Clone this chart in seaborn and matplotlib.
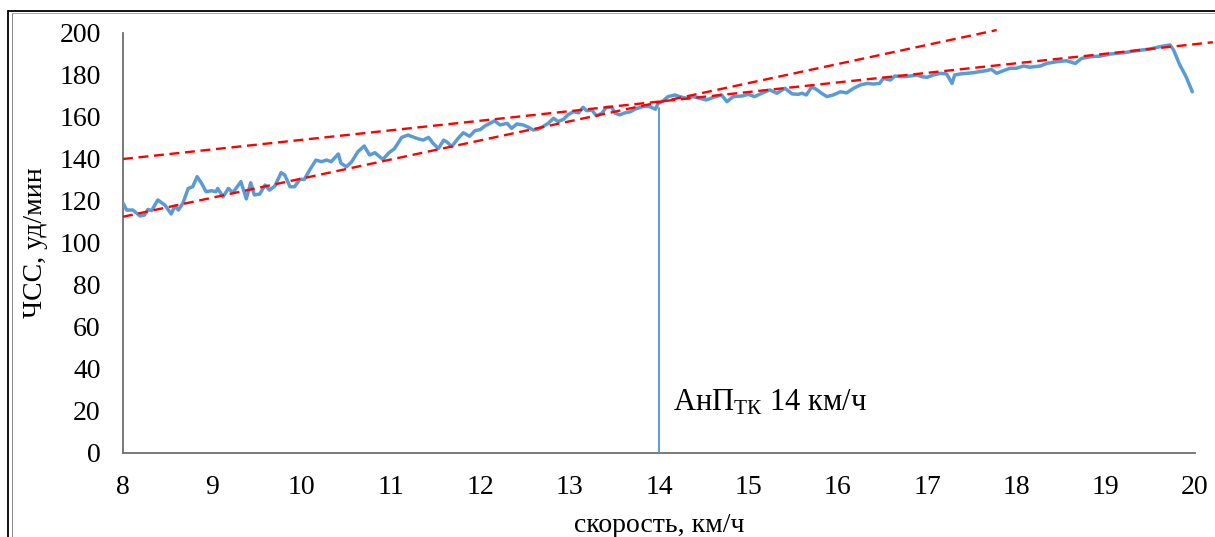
import matplotlib
matplotlib.use("Agg")
import matplotlib.pyplot as plt
from matplotlib.lines import Line2D
import seaborn as sns
import pandas as pd

# ---- data ----
speed = [8.00, 8.04, 8.11, 8.19, 8.24, 8.28, 8.32, 8.39, 8.47, 8.54, 8.58, 8.62, 8.67, 8.73, 8.78,
         8.83, 8.88, 8.93, 8.99, 9.04, 9.06, 9.12, 9.18, 9.23, 9.32, 9.38, 9.43, 9.47, 9.53, 9.59,
         9.64, 9.70, 9.77, 9.81, 9.87, 9.92, 9.98, 10.03, 10.09, 10.16, 10.22, 10.28, 10.33, 10.41,
         10.44, 10.50, 10.56, 10.63, 10.70, 10.76, 10.82, 10.85, 10.91, 10.97, 11.04, 11.12, 11.19,
         11.29, 11.36, 11.42, 11.47, 11.53, 11.59, 11.63, 11.68, 11.75, 11.81, 11.88, 11.94, 12.00,
         12.05, 12.11, 12.16, 12.22, 12.30, 12.35, 12.41, 12.48, 12.54, 12.59, 12.65, 12.70, 12.76,
         12.82, 12.87, 12.93, 12.98, 13.04, 13.10, 13.15, 13.19, 13.25, 13.30, 13.36, 13.41, 13.47,
         13.51, 13.56, 13.62, 13.68, 13.73, 13.79, 13.84, 13.90, 13.96, 13.99, 14.05, 14.10, 14.18,
         14.23, 14.31, 14.38, 14.46, 14.53, 14.63, 14.70, 14.76, 14.83, 14.93, 15.00, 15.07, 15.15,
         15.24, 15.32, 15.41, 15.49, 15.56, 15.60, 15.65, 15.71, 15.77, 15.82, 15.88, 15.95, 16.03,
         16.10, 16.18, 16.25, 16.33, 16.40, 16.47, 16.51, 16.59, 16.64, 16.74, 16.81, 16.89, 16.94,
         17.00, 17.07, 17.15, 17.22, 17.28, 17.31, 17.37, 17.44, 17.52, 17.59, 17.67, 17.72, 17.78,
         17.85, 17.93, 18.00, 18.08, 18.15, 18.27, 18.34, 18.45, 18.56, 18.66, 18.73, 18.83, 18.94,
         19.05, 19.20, 19.35, 19.50, 19.61, 19.72, 19.76, 19.83, 19.90, 19.97]
hr = [119, 115.7, 115.7, 112.9, 113.3, 116, 115.4, 120.5, 118, 113.8, 117.6, 115.7, 118.9, 126, 126.8,
      131.6, 128.4, 124.4, 124.9, 124.4, 126, 122, 126, 124, 129.2, 121, 128.7, 122.9, 123.3, 127.6,
      125.2, 127.1, 133.5, 132.4, 126.8, 126.8, 130.3, 130.3, 134.8, 139.5, 138.7, 139.5, 138.7, 142.4,
      138, 136.3, 138.7, 143.5, 146.2, 141.9, 143, 141.9, 139.8, 142.7, 145, 150.3, 151.4,
      149.8, 149, 150.3, 147.5, 145, 149, 148, 145.9, 149.8, 152.5, 150.8, 153.5, 154,
      155.7, 157, 158.2, 156.2, 157, 154.6, 156.7, 156.2, 155.1, 153.8, 154.2, 155.4, 157,
      159.4, 157.8, 158.9, 161, 162.5, 162, 164.6, 163, 163.3, 160.5, 161.8, 164.6, 164.6,
      161.8, 161, 162, 162.5, 163.7, 164.6, 165.2, 164.9, 163.7, 166.5, 167.8, 169.7, 170.5,
      169.7, 168.9, 169.7, 168.9, 168.1, 169.7, 170.5, 167.3, 169.7, 170, 170.8, 169.7, 171.3,
      172.9, 171.3, 173.7, 171, 170.8, 171.3, 170.5, 174.4, 172.9, 171.3, 169.7, 170.5, 172,
      171.5, 173.7, 175.2, 176, 175.7, 176, 178.4, 177.6, 179.5, 179.2, 179.5, 180, 179.2,
      178.9, 180, 180.8, 180.5, 176, 180, 180.5, 180.8, 181.1, 181.6, 182.1, 182.7, 180.8,
      182, 183.2, 183.2, 184.3, 183.7, 184.3, 185.5, 186.3, 186.8, 185.5, 187.9, 188.7, 189,
      190, 190.6, 191.6, 192.4, 193.5, 194.3, 191.9, 184.8, 179.2, 172]

trend1_x = [8.0, 20.2]
trend1_y = [140.0, 195.6]
trend2_x = [8.0, 17.78]
trend2_y = [112.5, 201.4]

anp_x = [14.0, 14.0]
anp_y = [0.0, 164.5]

x_ticks = [8, 9, 10, 11, 12, 13, 14, 15, 16, 17, 18, 19, 20]
y_ticks = [0, 20, 40, 60, 80, 100, 120, 140, 160, 180, 200]

x_label = "скорость, км/ч"
y_label = "ЧСС, уд/мин"
annot = r"АнП$_\mathregular{ТК}$ 14 км/ч"

# ---- style ----
sns.set_style("white")
plt.rcParams["font.family"] = ["Liberation Serif", "DejaVu Serif"]
plt.rcParams["mathtext.fontset"] = "custom"
plt.rcParams["mathtext.rm"] = "Liberation Serif"
plt.rcParams["mathtext.it"] = "Liberation Serif:italic"
plt.rcParams["mathtext.bf"] = "Liberation Serif:bold"

BLUE = "#5B9BD5"
RED = "#FF0000"
AXC = "#6e6e6e"

fig = plt.figure(figsize=(12.15, 5.37), dpi=100)
ax = fig.add_axes([123 / 1215, 1 - 453 / 537, (1195 - 123) / 1215, (453 - 33) / 537])

df = pd.DataFrame({"speed": speed, "hr": hr})
sns.lineplot(data=df, x="speed", y="hr", ax=ax, color=BLUE, linewidth=2.5,
             estimator=None, sort=False, zorder=3)
ax.plot(anp_x, anp_y, color=BLUE, linewidth=1.4, zorder=3)
ax.plot(trend1_x, trend1_y, color=RED, linewidth=1.7, linestyle=(0, (4.2, 2.4)),
        clip_on=False, zorder=4)
ax.plot(trend2_x, trend2_y, color=RED, linewidth=1.7, linestyle=(0, (4.2, 2.4)),
        clip_on=False, zorder=4)

ax.set_xlim(8, 20)
ax.set_ylim(0, 200)
ax.set_xticks(x_ticks)
ax.set_yticks(y_ticks)
ax.tick_params(axis="both", direction="in", length=6, width=1.0, color=AXC,
               labelsize=20, labelcolor="black", pad=16)

for s in ["top", "right"]:
    ax.spines[s].set_visible(False)
for s in ["left", "bottom"]:
    ax.spines[s].set_color(AXC)
    ax.spines[s].set_linewidth(1.3)

ax.set_xlabel(x_label, fontsize=20, color="black", va="baseline")
ax.xaxis.set_label_coords(0.5, (453 - 532) / 420)
ax.set_ylabel(y_label, fontsize=20, color="black", va="center")
ax.yaxis.set_label_coords((36 - 123) / 1072, 0.5)

ax.text(14.16, 20.1, annot, fontsize=22, color="black", ha="left", va="baseline")

# page frame
fig.add_artist(Line2D([8.3 / 1215, 8.3 / 1215], [0, 1 - 11 / 537], transform=fig.transFigure,
                      color="black", linewidth=1.3))
fig.add_artist(Line2D([11.7 / 1215, 11.7 / 1215], [0, 1 - 13 / 537], transform=fig.transFigure,
                      color="#888888", linewidth=0.7))
fig.add_artist(Line2D([8.3 / 1215, 1], [1 - 11 / 537, 1 - 11 / 537], transform=fig.transFigure,
                      color="black", linewidth=1.3))
fig.add_artist(Line2D([11.7 / 1215, 1], [1 - 13 / 537, 1 - 13 / 537], transform=fig.transFigure,
                      color="#aaaaaa", linewidth=0.7))

fig.savefig("out.png", dpi=100)
